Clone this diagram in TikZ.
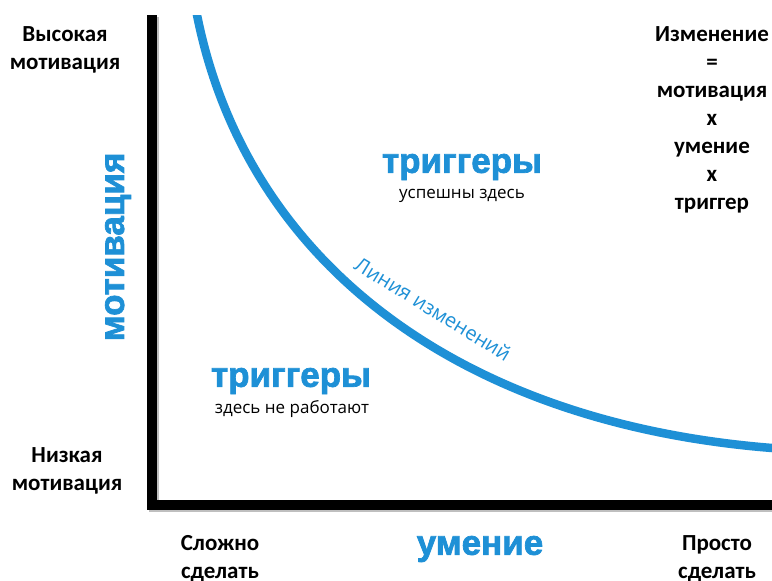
\documentclass[tikz,border=0pt]{standalone}
\usepackage{fontspec}
\setmainfont{Carlito}
\newfontfamily\heavyfont{Liberation Sans}[BoldFeatures={FakeBold=2}]
\newfontfamily\notefont{Open Sans}
\definecolor{curveblue}{RGB}{30,144,214}
\begin{document}
\begin{tikzpicture}[x=1pt,y=-1pt,
  axislabel/.style={font=\bfseries\fontsize{23}{28}\selectfont,align=center,text=black,inner sep=0pt},
  biglabel/.style={font=\heavyfont\bfseries\fontsize{35}{38}\selectfont,text=curveblue,inner sep=0pt},
  smalllabel/.style={font=\notefont\fontsize{17}{20}\selectfont,text=black,inner sep=0pt},
  axisline/.style={line width=10pt,black,line join=miter},
  shadowline/.style={line width=10pt,black!25,line join=miter},
  changeline/.style={line width=8.5pt,curveblue}]
\useasboundingbox (0,0) rectangle (772,581);
\fill[white] (0,0) rectangle (772,581);

% axes with a faint drop shadow
\coordinate (top) at (152,15);
\coordinate (corner) at (152,504.5);
\coordinate (right) at (790,504.5);
\begin{scope}[shift={(1.5,2)}]
  \draw[shadowline] (152,15) -- (152,504.5) -- (790,504.5);
\end{scope}
\draw[axisline] (top) -- (corner) -- (right);

% change line
\coordinate (c0) at (195,5);
\coordinate (c1) at (197,15);
\coordinate (c2) at (772,448);
\coordinate (c3) at (800,450.2);
\begin{scope}
  \clip (0,15) rectangle (772,581);
  \draw[changeline] (c0) -- (c1) .. controls (246.6,262.8) and (459.3,423) .. (c2) -- (c3);
\end{scope}

% corner labels
\node[axislabel] (high) at (65,50) {Высокая\\мотивация};
\node[axislabel] (low) at (67,471) {Низкая\\мотивация};
\node[axislabel] (hard) at (220,559) {Сложно\\сделать};
\node[axislabel] (easy) at (717,559) {Просто\\сделать};

% formula
\node[axislabel] (formula) at (712,120) {Изменение\\=\\мотивация\\х\\умение\\х\\триггер};

% axis names
\node[biglabel,rotate=90] (motivation) at (118,247) {мотивация};
\node[biglabel] (skill) at (480,549) {умение};

% regions
\node[biglabel] (trigok) at (462,167) {триггеры};
\node[smalllabel] (trigoktext) at (462,196) {успешны здесь};
\node[biglabel] (trigno) at (291,381) {триггеры};
\node[smalllabel] (trignotext) at (292,409) {здесь не работают};

% curve label
\node[font=\notefont\fontsize{20}{22}\selectfont,text=curveblue,rotate=-31.5,inner sep=0pt] (linelabel) at (433,309) {Линия изменений};
\end{tikzpicture}
\end{document}
